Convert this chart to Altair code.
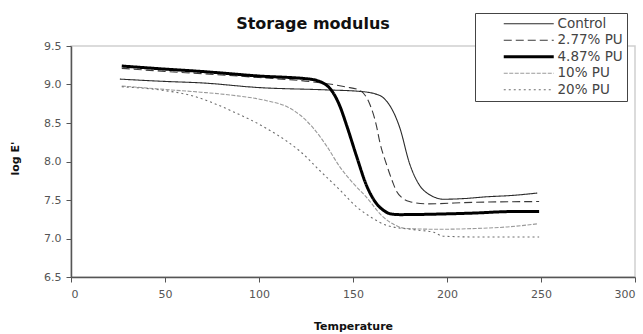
import altair as alt
import pandas as pd

# Dynamic mechanical analysis: storage modulus (log E') vs temperature
series_names = ["Control", "2.77% PU", "4.87% PU", "10% PU", "20% PU"]

control_t = [26, 50, 70, 100, 136, 154, 164, 168, 170, 175, 180, 186, 190, 193, 198, 210, 220, 235, 248]
control_v = [9.07, 9.04, 9.02, 8.96, 8.93, 8.91, 8.86, 8.78, 8.71, 8.43, 7.98, 7.67, 7.58, 7.54, 7.51, 7.52, 7.54, 7.56, 7.59]

pu277_t = [27, 50, 70, 100, 130, 146, 154, 159, 162.6, 164, 168, 171, 173, 176, 180, 189, 214, 249]
pu277_v = [9.21, 9.17, 9.14, 9.09, 9.03, 8.97, 8.92, 8.74, 8.45, 8.28, 7.95, 7.74, 7.62, 7.53, 7.48, 7.45, 7.47, 7.48]

pu487_t = [27, 50, 69, 100, 127, 136, 139.5, 143, 146.6, 152, 157, 162.6, 166, 170, 175, 200, 214, 235, 249]
pu487_v = [9.24, 9.20, 9.17, 9.11, 9.07, 8.99, 8.89, 8.72, 8.47, 8.06, 7.70, 7.45, 7.37, 7.32, 7.31, 7.32, 7.33, 7.35, 7.35]

pu10_t = [27, 53, 69, 86, 104, 115, 122, 129, 136, 143, 150, 157, 166, 172, 178, 196, 215, 232, 248]
pu10_v = [8.98, 8.93, 8.90, 8.86, 8.79, 8.71, 8.60, 8.43, 8.20, 7.93, 7.72, 7.54, 7.28, 7.18, 7.13, 7.12, 7.13, 7.15, 7.19]

pu20_t = [27, 47, 65, 86, 104, 115, 122, 132, 143, 152, 160, 168, 184, 193, 198, 215, 249]
pu20_v = [8.97, 8.93, 8.85, 8.65, 8.43, 8.26, 8.13, 7.89, 7.63, 7.41, 7.27, 7.17, 7.11, 7.08, 7.03, 7.02, 7.02]

x_ticks = [0, 50, 100, 150, 200, 250, 300]
y_ticks = [6.5, 7.0, 7.5, 8.0, 8.5, 9.0, 9.5]

rows = []
for name, ts, vs in zip(
    series_names,
    [control_t, pu277_t, pu487_t, pu10_t, pu20_t],
    [control_v, pu277_v, pu487_v, pu10_v, pu20_v],
):
    for t, v in zip(ts, vs):
        rows.append({"series": name, "temp": t, "logE": v})
df = pd.DataFrame(rows)

line_colors = ["#2b2b2b", "#3a3a3a", "#000000", "#9a9a9a", "#6e6e6e"]
line_dashes = [[1, 0], [8, 4], [1, 0], [4, 1.5], [2, 3]]

# the 4.87% PU curve is drawn heavier than the others, in the plot and in the key
bold_series = "4.87% PU"
width_expr = f"datum.value === '{bold_series}' ? 3 : 1.1"

legend = alt.Legend(
    title=None,
    orient="none",
    legendX=404,
    legendY=-33,
    symbolType="M-5,0H5",
    symbolSize=100,
    symbolOffset=43,
    labelOffset=22,
    padding=4,
    rowPadding=1.5,
    fillColor="white",
    strokeColor="#444444",
    labelFont="DejaVu Sans",
    labelFontSize=13.5,
    labelColor="#444444",
    symbolStrokeWidth=alt.ExprRef(expr=width_expr),
)

chart = (
    alt.Chart(df)
    .mark_line(interpolate="monotone")
    .encode(
        x=alt.X(
            "temp:Q",
            scale=alt.Scale(domain=[0, 300], nice=False),
            axis=alt.Axis(
                values=x_ticks,
                title="Temperature",
                titleX=282,
                titleY=49,
                titleBaseline="middle",
                labelPadding=6,
            ),
        ),
        y=alt.Y(
            "logE:Q",
            scale=alt.Scale(domain=[6.5, 9.5], nice=False, zero=False),
            axis=alt.Axis(
                values=y_ticks,
                format=".1f",
                title="log E'",
                titleX=-56,
                titleY=112,
                titleBaseline="middle",
                titleAlign="center",
                labelPadding=5,
            ),
        ),
        color=alt.Color("series:N", sort=series_names,
                        scale=alt.Scale(domain=series_names, range=line_colors), legend=legend),
        strokeDash=alt.StrokeDash("series:N", sort=series_names,
                                  scale=alt.Scale(domain=series_names, range=line_dashes), legend=legend),
        strokeWidth=alt.condition(alt.datum.series == bold_series, alt.value(3), alt.value(1.1)),
    )
    .properties(
        width=564,
        height=231,
        autosize="none",
        padding={"left": 71, "top": 46, "right": 8, "bottom": 57},
        title=alt.TitleParams(
            "Storage modulus",
            font="DejaVu Sans",
            fontSize=16,
            fontWeight="bold",
            color="#111111",
            anchor="middle",
            frame="group",
            dx=-40,
            offset=-19,
        ),
    )
    .configure_view(stroke="#cfcfcf", strokeWidth=1.5)
    .configure_axis(
        grid=False,
        domainColor="#555555",
        domainWidth=1.5,
        tickColor="#555555",
        tickSize=5,
        tickWidth=1,
        labelFont="DejaVu Sans",
        labelFontSize=11,
        labelColor="#555555",
        titleFont="DejaVu Sans",
        titleFontSize=11,
        titleFontWeight="bold",
        titleColor="#111111",
    )
)

chart.save("out.html", embed_options={"renderer": "svg", "actions": False})
